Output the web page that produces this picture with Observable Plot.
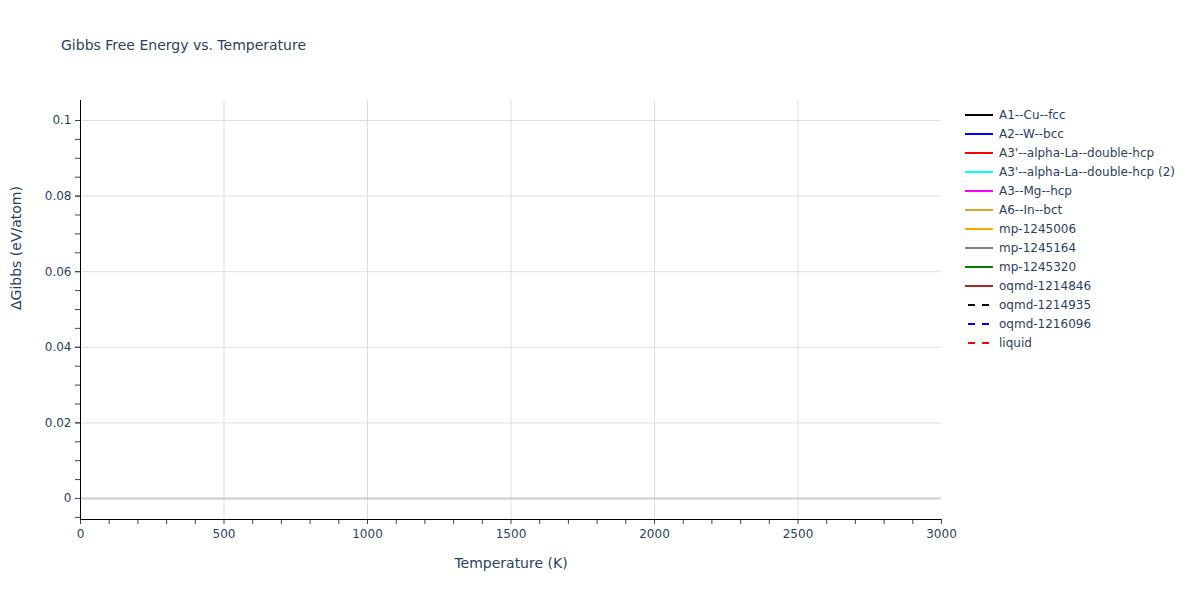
<!DOCTYPE html>
<html>
<head>
<meta charset="utf-8">
<script src="https://cdn.jsdelivr.net/npm/d3@7"></script>
<script src="https://cdn.jsdelivr.net/npm/@observablehq/plot@0.6"></script>
<style>
  html, body { margin: 0; padding: 0; background: #fff; }
  #wrap { position: relative; width: 1200px; height: 600px; font-family: "DejaVu Sans", sans-serif; }
  #title { position: absolute; left: 61px; top: 37px; font-size: 14px; color: #2a3f5f; white-space: nowrap; }
  #legend { position: absolute; left: 965px; top: 105px; font-size: 12px; color: #2a3f5f; }
  .item { height: 19px; display: flex; align-items: center; white-space: nowrap; }
  .item svg { margin-right: 6px; }
  #chart { position: absolute; left: 0; top: 0; }
</style>
</head>
<body>
<div id="wrap">
  <div id="chart"></div>
  <div id="title">Gibbs Free Energy vs. Temperature</div>
  <div id="legend"></div>
</div>
<script>
// Series shown in the legend (no data points are drawn in the reference)
const seriesNames = [
  "A1--Cu--fcc", "A2--W--bcc", "A3'--alpha-La--double-hcp", "A3'--alpha-La--double-hcp (2)",
  "A3--Mg--hcp", "A6--In--bct", "mp-1245006", "mp-1245164", "mp-1245320",
  "oqmd-1214846", "oqmd-1214935", "oqmd-1216096", "liquid"
];
const seriesColors = [
  "black", "blue", "red", "cyan", "magenta", "goldenrod", "orange", "gray", "green",
  "brown", "black", "blue", "red"
];
const seriesDashed = [false, false, false, false, false, false, false, false, false, false, true, true, true];
// Temperatures (K) and ΔGibbs values (eV/atom): empty, nothing is plotted
const temperatureK = [];
const gibbsValues = seriesNames.map(() => []);

const xTicks = [0, 500, 1000, 1500, 2000, 2500, 3000];
const xMinorTicks = d3.range(0, 3001, 100);
const yTicks = [0, 0.02, 0.04, 0.06, 0.08, 0.1];
const yMinorTicks = d3.range(0, 21).map(i => +(i * 0.005).toFixed(3)).concat([-0.005]);

const rows = [];
seriesNames.forEach((name, i) => {
  gibbsValues[i].forEach((g, j) => rows.push({series: name, T: temperatureK[j], G: g, i}));
});

const xDomain = [0, 3000];
const yDomain = [-0.00556, 0.10529];
const tickColor = "#444";
const labelColor = "#2a3f5f";

const plot = Plot.plot({
  width: 1200,
  height: 600,
  marginLeft: 80,
  marginRight: 259,
  marginTop: 100,
  marginBottom: 81,
  style: {fontFamily: '"DejaVu Sans", sans-serif', fontSize: "12px", background: "white"},
  x: {domain: xDomain},
  y: {domain: yDomain},
  marks: [
    Plot.gridX([500, 1000, 1500, 2000, 2500], {stroke: "#dedede", strokeOpacity: 1}),
    Plot.gridY([0.02, 0.04, 0.06, 0.08, 0.1], {stroke: "#dedede", strokeOpacity: 1}),
    Plot.ruleY([0], {stroke: "#cccccc", strokeWidth: 2}),
    ...seriesNames.map((name, i) => Plot.line(rows.filter(r => r.i === i), {
      x: "T", y: "G", stroke: seriesColors[i], strokeWidth: 2,
      strokeDasharray: seriesDashed[i] ? "6,6" : null
    })),
    Plot.axisX(xMinorTicks, {tickSize: 5, stroke: tickColor, text: null, label: null}),
    Plot.axisX(xTicks, {tickSize: 0, tickPadding: 10, fill: labelColor, label: null, fontSize: 12,
      tickFormat: d => String(d)}),
    Plot.axisY(yMinorTicks.filter(v => v >= yDomain[0]), {tickSize: 5, stroke: tickColor, text: null, label: null}),
    Plot.axisY(yTicks, {tickSize: 5, stroke: tickColor, tickPadding: 4, fill: labelColor, label: null, fontSize: 12,
      tickFormat: d => d === 0 ? "0" : d3.format(".2~f")(d)}),
    Plot.ruleX([xDomain[0]], {stroke: "black", strokeWidth: 1}),
    Plot.ruleY([yDomain[0]], {stroke: "black", strokeWidth: 1}),
    Plot.text(["Temperature (K)"], {frameAnchor: "bottom", dy: 48, fill: labelColor, fontSize: 14}),
    Plot.text(["ΔGibbs (eV/atom)"], {frameAnchor: "left", dx: -64, rotate: -90, fill: labelColor, fontSize: 14})
  ]
});
document.getElementById("chart").appendChild(plot);

const legend = document.getElementById("legend");
seriesNames.forEach((name, i) => {
  const div = document.createElement("div");
  div.className = "item";
  div.innerHTML = `<svg width="28" height="4"><line x1="0" x2="28" y1="2" y2="2" stroke="${seriesColors[i]}" stroke-width="2" ${seriesDashed[i] ? 'stroke-dasharray="7,7" stroke-dashoffset="-3"' : ''}/></svg><span>${name}</span>`;
  legend.appendChild(div);
});
</script>
</body>
</html>
